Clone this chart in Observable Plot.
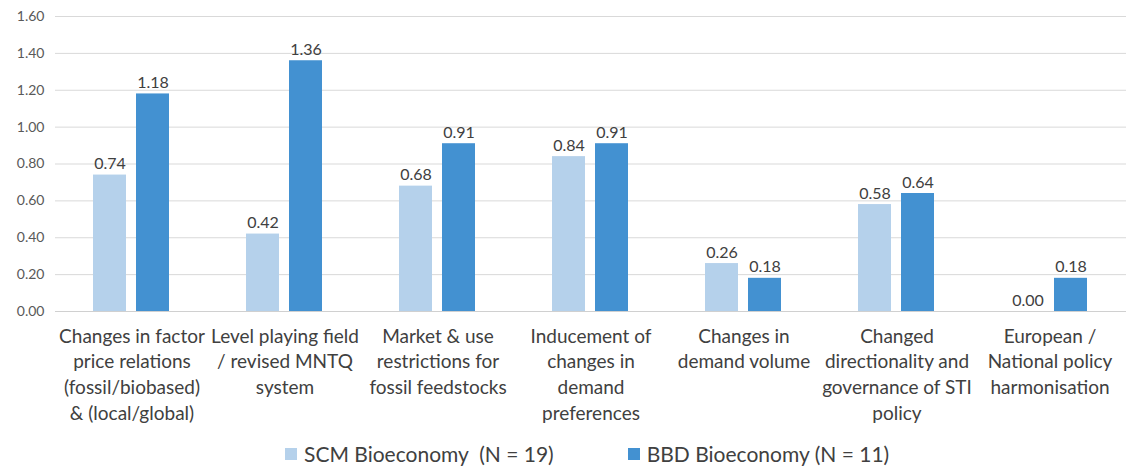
<!DOCTYPE html>
<html><head><meta charset="utf-8">
<script src="https://cdn.jsdelivr.net/npm/d3@7"></script>
<script src="https://cdn.jsdelivr.net/npm/@observablehq/plot@0.6"></script>
<style>
body{margin:0;background:#fff;font-family:Lato,sans-serif;}
#legend{display:flex;align-items:center;padding-left:285px;margin-top:9px;font-size:21px;color:#404040;}
.item{display:flex;align-items:center;margin-right:74px;}
.sw{width:12px;height:12px;margin-right:7px;}
</style></head><body><div id="chart"></div><div id="legend"></div>
<script>
const categories = [
  "Changes in factor\nprice relations\n(fossil/biobased)\n& (local/global)",
  "Level playing field\n/ revised MNTQ\nsystem",
  "Market & use\nrestrictions for\nfossil feedstocks",
  "Inducement of\nchanges in\ndemand\npreferences",
  "Changes in\ndemand volume",
  "Changed\ndirectionality and\ngovernance of STI\npolicy",
  "European /\nNational policy\nharmonisation"
];
const seriesNames = ["SCM Bioeconomy  (N = 19)", "BBD Bioeconomy (N = 11)"];
const seriesColors = ["#b5d1eb", "#4391d1"];
const scmValues = [0.74, 0.42, 0.68, 0.84, 0.26, 0.58, 0.00];
const bbdValues = [1.18, 1.36, 0.91, 0.91, 0.18, 0.64, 0.18];
const yTicks = [0, 0.2, 0.4, 0.6, 0.8, 1.0, 1.2, 1.4, 1.6];

const data = [];
categories.forEach((c, i) => {
  data.push({cat: c, series: seriesNames[0], value: scmValues[i]});
  data.push({cat: c, series: seriesNames[1], value: bbdValues[i]});
});

const chart = Plot.plot({
  width: 1137,
  height: 432,
  marginTop: 16,
  marginLeft: 53,
  marginRight: 9,
  marginBottom: 121,
  style: {fontFamily: "Lato, sans-serif", fontSize: "14px", color: "#404040"},
  fx: {domain: categories, paddingInner: 0, paddingOuter: 0, label: null, axis: null},
  x: {domain: seriesNames, paddingInner: 0.227, paddingOuter: 0.86, axis: null},
  y: {domain: [0, 1.6], axis: null},
  color: {domain: seriesNames, range: seriesColors},
  marks: [
    Plot.gridY(yTicks, {stroke: "#d9d9d9", strokeOpacity: 1}),
    Plot.ruleY([0], {stroke: "#d0d0d0"}),
    Plot.barY(data, {fx: "cat", x: "series", y: "value", fill: "series"}),
    Plot.text(data, {fx: "cat", x: "series", y: "value", text: d => d.value.toFixed(2), dy: -11, fill: "#404040", fontSize: 16}),
    Plot.axisY(yTicks, {tickFormat: d => d.toFixed(2), tickSize: 0, tickPadding: 11, fill: "#595959", fontSize: 14, label: null}),
    Plot.axisFx({anchor: "bottom", tickSize: 0, tickPadding: 13, lineHeight: 1.35, fontSize: 19, fill: "#404040", label: null})
  ]
});
document.getElementById("chart").appendChild(chart);

const legend = document.getElementById("legend");
seriesNames.forEach((s, i) => {
  const it = document.createElement("div");
  it.className = "item";
  const sw = document.createElement("div");
  sw.className = "sw";
  sw.style.background = seriesColors[i];
  const t = document.createElement("span");
  t.textContent = s;
  t.style.whiteSpace = "pre";
  it.appendChild(sw); it.appendChild(t);
  legend.appendChild(it);
});
</script></body></html>
